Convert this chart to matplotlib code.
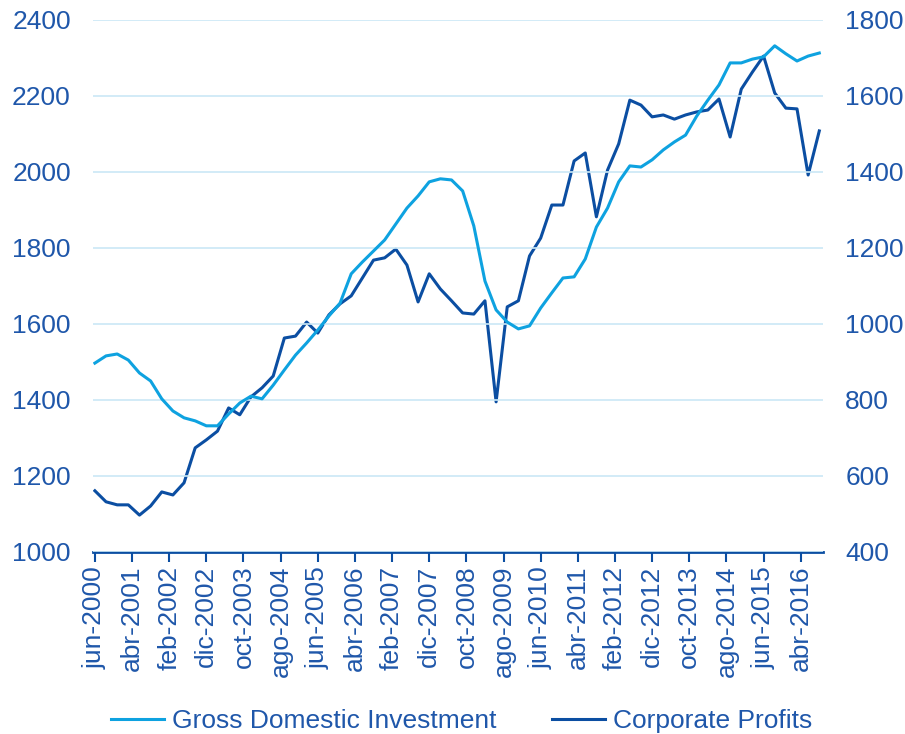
import matplotlib
matplotlib.use("Agg")
import matplotlib.pyplot as plt
import numpy as np

# quarterly data, jun-2000 .. sep-2016 (x in months since jun-2000)
gdi = [1497, 1516, 1521, 1505, 1471, 1450, 1403, 1371, 1353, 1345,
       1332, 1332, 1363, 1392, 1410, 1403, 1439, 1479, 1518, 1550,
       1584, 1621, 1655, 1732, 1763, 1792, 1821, 1863, 1905, 1937,
       1974, 1982, 1979, 1950, 1858, 1713, 1637, 1605, 1587, 1595,
       1642, 1682, 1721, 1724, 1771, 1855, 1905, 1974, 2016, 2013,
       2032, 2058, 2079, 2097, 2147, 2189, 2229, 2287, 2287, 2297,
       2303, 2332, 2311, 2292, 2305, 2313]
profits = [561, 532, 524, 524, 497, 521, 558, 550, 582, 674,
           695, 718, 779, 761, 808, 832, 863, 963, 968, 1005,
           976, 1024, 1053, 1074, 1121, 1168, 1174, 1197, 1155, 1058,
           1132, 1092, 1061, 1029, 1026, 1061, 795, 1045, 1061, 1179,
           1226, 1313, 1313, 1429, 1450, 1282, 1405, 1474, 1589, 1576,
           1545, 1550, 1539, 1550, 1558, 1563, 1592, 1492, 1618, 1663,
           1705, 1608, 1568, 1566, 1392, 1508]
tick_labels = ["jun-2000", "abr-2001", "feb-2002", "dic-2002", "oct-2003",
               "ago-2004", "jun-2005", "abr-2006", "feb-2007", "dic-2007",
               "oct-2008", "ago-2009", "jun-2010", "abr-2011", "feb-2012",
               "dic-2012", "oct-2013", "ago-2014", "jun-2015", "abr-2016"]

months = np.arange(len(gdi)) * 3
tick_pos = np.arange(len(tick_labels)) * 10

plt.rcParams['font.family'] = ['Liberation Sans', 'DejaVu Sans']
txt = '#1f57aa'
light = '#0ea2e0'
dark = '#0b4ea2'
grid = '#cbe8f6'
fs = 19

fig = plt.figure(figsize=(9.05, 7.34), dpi=100)
ax = fig.add_axes([0.1028, 0.248, 0.8066, 0.7248])
ax2 = ax.twinx()

l1, = ax.plot(months, gdi, color=light, lw=2.2, label="Gross Domestic Investment")
l2, = ax2.plot(months, profits, color=dark, lw=2.2, label="Corporate Profits")
ax.set_zorder(ax2.get_zorder() + 1)
ax.patch.set_visible(False)

ax.set_xlim(-0.5, 196)
ax.set_ylim(1000, 2400)
ax2.set_ylim(400, 1800)
ax.set_yticks(np.arange(1000, 2401, 200))
ax2.set_yticks(np.arange(400, 1801, 200))
ax.yaxis.grid(True, color=grid, lw=1.2)
ax.set_axisbelow(True)

for a in (ax, ax2):
    for s in a.spines.values():
        s.set_visible(False)
ax.spines['bottom'].set_visible(True)
ax.spines['bottom'].set_color(dark)
ax.spines['bottom'].set_linewidth(2)
ax.spines['bottom'].set_zorder(0)

ax.set_xticks(tick_pos, tick_labels, rotation=90)
ax.tick_params(axis='x', colors=dark, width=1.5, length=7, labelcolor=txt,
               labelsize=fs, pad=3)
ax.tick_params(axis='y', length=0, labelcolor=txt, labelsize=fs, pad=16)
ax2.tick_params(axis='y', length=0, labelcolor=txt, labelsize=fs, pad=16)

fig.legend(handles=[l1, l2], loc='center', bbox_to_anchor=(0.51, 0.018),
           ncol=2, frameon=False, fontsize=fs, handlelength=2.0,
           columnspacing=2.1, handletextpad=0.3, labelcolor=txt)

plt.savefig("out.png", dpi=100)
